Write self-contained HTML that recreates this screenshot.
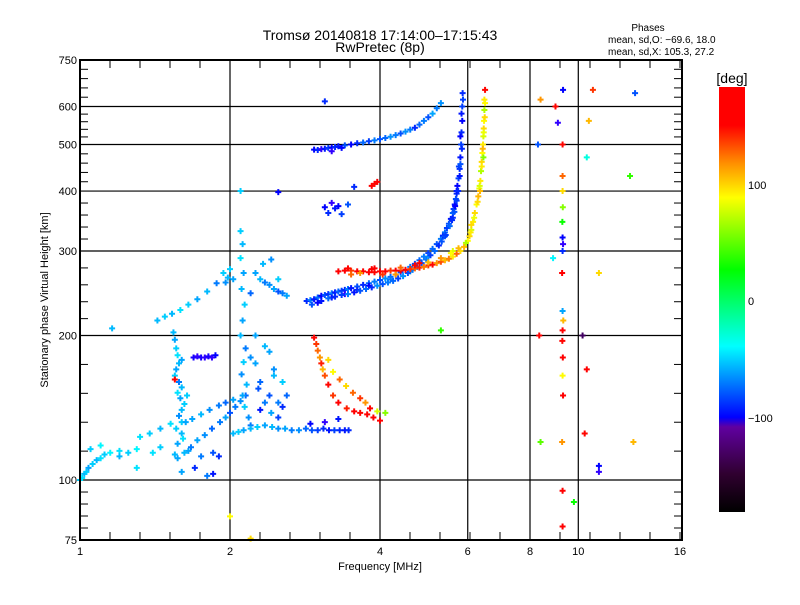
<!DOCTYPE html>
<html><head><meta charset="utf-8"><style>
html,body{margin:0;padding:0;background:#fff;}
svg text{font-family:"Liberation Sans","DejaVu Sans",sans-serif;fill:#000;}
</style></head><body>
<svg id="chart" width="800" height="600" viewBox="0 0 800 600" xmlns="http://www.w3.org/2000/svg">
<defs><linearGradient id="cbar" x1="0" y1="1" x2="0" y2="0">
<stop offset="0" stop-color="#000000"/><stop offset="0.09" stop-color="#300030"/><stop offset="0.2" stop-color="#6000a0"/>
<stop offset="0.223" stop-color="#0000ff"/><stop offset="0.39" stop-color="#00ffff"/><stop offset="0.57" stop-color="#00ff00"/>
<stop offset="0.74" stop-color="#ffff00"/><stop offset="0.82" stop-color="#ff9000"/><stop offset="0.91" stop-color="#ff0000"/><stop offset="1" stop-color="#ff0000"/>
</linearGradient></defs>
<text x="380" y="40" font-size="14" text-anchor="middle">Tromsø 20140818 17:14:00–17:15:43</text>
<text x="380" y="52" font-size="14" text-anchor="middle">RwPretec (8p)</text>
<text x="648" y="31" font-size="10" text-anchor="middle">Phases</text>
<text x="608" y="43" font-size="10">mean, sd,O: −69.6, 18.0</text>
<text x="608" y="55" font-size="10">mean, sd,X: 105.3, 27.2</text>
<g id="grid"></g><g id="marks"></g><g id="axes"></g>
<text x="380" y="570" font-size="11" text-anchor="middle">Frequency [MHz]</text>
<text x="0" y="0" font-size="11" text-anchor="middle" transform="translate(48,300) rotate(-90)">Stationary phase Virtual Height [km]</text>
<rect x="719" y="87" width="26" height="425" fill="url(#cbar)"/>
<text x="732" y="83" font-size="14" text-anchor="middle">[deg]</text>
<text x="748" y="189" font-size="11">100</text>
<text x="748" y="305" font-size="11">0</text>
<text x="748" y="422" font-size="11">−100</text>
</svg>
<script>
const xTicks=[1,2,4,6,8,10,16];
const yTicks=[75,100,200,300,400,500,600,750];
const oF=[2.85,2.9,2.95,3.0,3.05,3.1,3.15,3.2,3.25,3.3,3.35,3.4,3.45,3.5,3.6,3.7,3.8,3.9,4.0,4.1,4.2,4.3,4.4,4.5,4.6,4.7,4.8,4.9,5.0,5.1,5.2,5.3,5.35,5.4,5.45,5.5,5.55,5.6,5.62,5.65,5.68,5.7,5.72,5.75,5.78,5.8,5.82,5.83,5.85,5.85,5.86,3.0,3.2,3.4,3.6,3.8,4.2,4.6,5.0,5.4,5.6,5.7,5.76,5.8];
const oH=[236,237,238,240,242,243,244,245,246,247,248,249,250,251,253,255,257,259,261,263,265,268,271,274,278,282,287,292,297,303,310,318,323,328,335,342,350,360,367,375,385,395,410,425,445,470,500,530,560,600,640,234,240,244,249,254,262,272,292,322,352,400,450,520];
const oP=[-90,-70,-95,-75,-100,-80,-90,-70,-95,-75,-85,-90,-70,-95,-80,-90,-75,-70,-80,-65,-75,-70,-80,-65,-70,-80,-75,-70,-85,-75,-80,-70,-90,-75,-85,-80,-95,-75,-85,-95,-80,-90,-100,-85,-90,-95,-85,-90,-100,-85,-90,-100,-95,-110,-90,-100,-70,-60,-65,-80,-90,-95,-85,-100];
const o2F=[2.92,3.05,3.15,3.25,3.35,3.45,3.55,3.65,3.75,3.85,3.95,4.05,4.15,4.25,4.35,4.45,4.55,4.65,4.75,4.85,4.95,5.05,5.15,5.25,5.32,5.42,5.52,5.58,5.64,5.66,5.7,5.74,5.78,5.8,5.84,5.83,5.87];
const o2H=[232,236,239,241,243,244,246,248,250,252,254,256,258,260,263,266,270,274,278,283,288,294,300,308,314,324,338,348,362,372,382,400,430,455,490,580,620];
const o2P=[-80,-95,-75,-90,-85,-70,-95,-80,-75,-90,-65,-80,-70,-75,-85,-65,-80,-70,-75,-80,-70,-85,-75,-90,-80,-85,-75,-90,-80,-100,-85,-90,-95,-80,-90,-95,-85];
const xF=[3.3,3.4,3.5,3.6,3.7,3.8,3.9,4.0,4.1,4.2,4.3,4.4,4.5,4.6,4.7,4.8,4.9,5.0,5.1,5.2,5.3,5.4,5.5,5.6,5.7,5.8,5.9,6.0,6.05,6.1,6.15,6.2,6.25,6.3,6.33,6.36,6.38,6.4,6.42,6.44,6.45,6.46,6.47,6.48,6.48,6.5,3.5,3.9,4.3,4.8,5.6,6.1,6.35,6.45];
const xH=[272,273,273,272,272,271,271,272,272,273,273,273,274,275,276,277,278,280,281,283,285,287,289,292,296,300,306,315,322,332,345,360,375,390,405,420,440,460,480,500,520,540,560,590,620,650,268,276,268,283,300,340,400,470];
const xP=[175,165,140,175,160,170,150,175,165,140,170,160,150,140,130,145,125,140,150,120,135,110,125,95,130,100,110,90,100,80,95,100,90,110,85,95,70,100,90,95,80,100,90,70,95,150,130,170,120,150,80,100,110,60];
const x2F=[3.45,3.65,3.85,4.05,4.4,4.7,5.0,5.3,5.55,5.75,5.95,6.08,6.18,6.28,6.34,6.4,6.43,6.46,6.49,6.5];
const x2H=[276,270,275,268,277,280,284,290,297,304,312,328,352,380,410,450,490,530,570,610];
const x2P=[150,120,160,140,130,150,110,120,90,110,70,95,85,100,80,95,110,85,100,90];
const hopF=[2.95,3.0,3.05,3.1,3.15,3.2,3.25,3.3,3.4,3.5,3.6,3.7,3.8,3.9,4.0,4.1,4.2,4.3,4.4,4.5,4.6,4.7,4.8,4.9,5.0,5.1,5.2,5.3,3.2,3.35];
const hopH=[488,487,489,490,492,493,494,496,498,500,503,505,508,510,513,516,519,523,527,532,537,542,550,560,570,580,595,610,484,492];
const hopP=[-100,-90,-110,-95,-85,-100,-90,-95,-80,-100,-90,-75,-85,-70,-80,-75,-65,-70,-80,-65,-70,-90,-75,-70,-80,-60,-70,-65,-110,-100];
const eF=[1.0,1.01,1.02,1.03,1.04,1.06,1.08,1.1,1.12,1.15,1.2,1.25,1.3,1.4,1.45,1.55,1.65,1.75,1.85,1.9,1.57,1.62,1.67,1.72,1.78,1.84,1.91,1.96,2.0,2.05,2.1,2.15,1.32,1.38,1.45,1.52,1.6,1.68,1.75,1.82,1.9,1.96,2.03,1.05,1.1,1.2,1.3,1.6,1.7,1.8,1.85];
const eH=[100,101,103,104,106,108,110,111,113,114,115,114,116,114,117,113,115,112,114,112,111,114,117,121,124,128,132,135,138,142,146,150,123,125,128,131,132,134,137,140,143,145,147,116,118,112,106,104,106,102,103];
const eP=[-50,-45,-55,-50,-60,-50,-55,-45,-50,-40,-45,-50,-40,-45,-50,-55,-60,-70,-80,-90,-60,-55,-70,-60,-65,-75,-70,-60,-80,-70,-65,-75,-45,-50,-55,-45,-50,-60,-55,-65,-70,-75,-60,-50,-40,-55,-45,-60,-90,-70,-95];
const colF=[1.54,1.55,1.56,1.57,1.58,1.56,1.55,1.58,1.6,1.57,1.59,1.62,1.6,1.58,1.63,1.56,1.6,1.61,1.57,1.64,1.55,1.6,1.69,1.72,1.75,1.78,1.81,1.84,1.87];
const colH=[203,196,188,182,175,170,165,160,156,152,148,144,140,136,132,128,125,122,119,150,162,178,180,181,180,180,181,180,182];
const colP=[-55,-60,-50,-45,-55,-60,-50,-70,-55,-45,-60,-50,-55,-65,-60,-50,-55,-45,-60,-50,175,-60,-105,-110,-105,-110,-105,-110,-100];
const c2F=[2.1,2.12,2.1,2.13,2.11,2.14,2.12,2.1,2.15,2.13,2.11,2.16,2.12,2.14,2.18,2.2,2.25,2.3,2.35,2.4,2.45,2.5,2.55,2.3,2.4,2.5,2.6,2.25,2.35,2.45,2.2,2.28,2.42,2.55];
const c2H=[330,310,290,270,250,232,215,200,188,176,166,158,150,142,135,130,175,160,190,150,170,145,160,140,185,135,150,200,145,165,180,155,138,142];
const c2P=[-50,-55,-45,-60,-55,-50,-60,-55,-70,-50,-65,-55,-60,-50,-65,-70,-60,-75,-55,-80,-65,-70,-50,-95,-60,-85,-75,-60,-70,-55,-65,-80,-60,-90];
const lineF=[2.03,2.08,2.13,2.2,2.27,2.35,2.43,2.5,2.58,2.66,2.75,2.84,2.92,3.0,3.08,3.16,3.24,3.32,3.4,3.46,2.9,3.1,3.3];
const lineH=[125,126,127,128,129,130,129,128,128,127,127,128,127,127,128,127,127,127,127,127,131,132,134];
const lineP=[-55,-50,-60,-55,-50,-60,-55,-65,-60,-70,-65,-75,-80,-85,-90,-95,-85,-90,-95,-90,-100,-110,-95];
const cuspF=[2.95,2.98,3.0,3.03,3.05,3.07,3.1,3.15,3.22,3.3,3.43,3.55,3.65,3.77,3.88,4.0,3.15,3.22,3.32,3.42,3.53,3.65,3.74,3.82,3.95,4.1];
const cuspH=[198,192,186,180,175,170,165,158,150,145,141,139,138,137,135,133,178,168,162,157,152,148,145,141,139,138];
const cuspP=[150,140,130,120,145,110,135,150,140,160,145,160,150,165,160,155,100,90,130,100,130,140,120,150,80,60];
const upF=[1.16,1.43,1.48,1.53,1.59,1.65,1.72,1.8,1.88,1.94,1.98,2.03,1.96,2.0,2.25,2.3,2.35,2.4,2.45,2.5,2.55,2.6,2.33,2.42,2.2,2.5,3.1,3.15,3.2,3.25,3.3,3.35,3.45,3.55,3.85,3.9,3.95,3.1,2.1,2.5];
const upH=[207,215,219,222,226,232,238,247,257,270,264,262,258,275,270,262,258,255,250,247,245,242,282,288,245,262,370,360,378,368,372,358,375,408,410,414,418,615,400,398];
const upP=[-55,-55,-50,-55,-45,-50,-60,-55,-70,-50,-55,-60,-65,-50,-60,-55,-70,-65,-60,-80,-70,-60,-55,-65,-75,-50,-100,-90,-110,-95,-100,-85,-80,-90,165,150,170,-90,-50,-100];
const scF=[9.3,9.3,9.28,9.32,9.3,9.31,9.29,9.3,9.33,9.3,9.28,9.3,9.32,9.3,9.29,9.31,9.3,9.3,9.3,9.32,8.4,8.3,8.35,8.4,9.0,9.1,10.7,13.0,10.5,10.4,12.7,11.0,10.2,10.4,12.9,11.0,11.0,5.3,2.0,2.2,8.9,9.8,10.3];
const scH=[80,95,120,150,165,180,195,205,215,225,270,300,310,320,345,370,400,430,500,650,620,500,200,120,600,555,650,640,560,470,430,270,200,170,120,107,104,205,84,75.5,290,90,125];
const scP=[170,175,120,165,90,170,150,160,110,-60,155,-90,-110,-100,30,60,100,130,150,-100,120,-80,160,50,150,-110,140,-80,110,-30,40,100,-140,160,110,-100,-110,40,90,100,-40,30,150];

const X=f=>80+150*Math.log2(f);
const Y=h=>540-480*Math.log10(h/75);
const SVGNS="http://www.w3.org/2000/svg";
function colorOf(p){
  const st=[[-182,[0,0,0]],[-140,[64,0,96]],[-110,[48,0,255]],[-100,[0,0,255]],[-38,[0,255,255]],[28,[0,255,0]],[89,[255,255,0]],[120,[255,150,0]],[151,[255,0,0]],[200,[255,0,0]]];
  p=Math.max(-182,Math.min(200,p));
  for(let i=0;i<st.length-1;i++){if(p<=st[i+1][0]){const t=(p-st[i][0])/(st[i+1][0]-st[i][0]);const a=st[i][1],b=st[i+1][1];return `rgb(${Math.round(a[0]+(b[0]-a[0])*t)},${Math.round(a[1]+(b[1]-a[1])*t)},${Math.round(a[2]+(b[2]-a[2])*t)})`;}}
  return "rgb(255,0,0)";
}
const grid=document.getElementById('grid'),axes=document.getElementById('axes'),marks=document.getElementById('marks');
function line(g,x1,y1,x2,y2,w){const l=document.createElementNS(SVGNS,'line');l.setAttribute('x1',x1);l.setAttribute('y1',y1);l.setAttribute('x2',x2);l.setAttribute('y2',y2);l.setAttribute('stroke','#000');l.setAttribute('stroke-width',w);g.appendChild(l);return l;}
[2,4,6,8,10].forEach(f=>{const l=line(grid,X(f),60,X(f),540,1.2);

});
[100,200,300,400,500,600].forEach(h=>{const l=line(grid,80,Y(h),682,Y(h),1.2);

});
for(let x=80;x<=682;x+=30){line(axes,x,540,x,532,1);line(axes,x,60,x,68,1);}
const yMajor=[75,100,200,300,400,500,600,750];
for(let i=0;i<yMajor.length-1;i++){const a=Y(yMajor[i]),b=Y(yMajor[i+1]);const n=5;for(let k=1;k<n;k++){const y=a+(b-a)*k/n;line(axes,80,y,88,y,1);line(axes,682,y,674,y,1);}}
const frame=document.createElementNS(SVGNS,'rect');
frame.setAttribute('x',80);frame.setAttribute('y',60);frame.setAttribute('width',602);frame.setAttribute('height',480);
frame.setAttribute('fill','none');frame.setAttribute('stroke','#000');frame.setAttribute('stroke-width',2);


axes.appendChild(frame);
xTicks.forEach(f=>{const t=document.createElementNS(SVGNS,'text');t.setAttribute('x',X(f));t.setAttribute('y',555);t.setAttribute('font-size','11');t.setAttribute('text-anchor','middle');t.textContent=f;


axes.appendChild(t);});
yTicks.forEach(h=>{const t=document.createElementNS(SVGNS,'text');t.setAttribute('x',77);t.setAttribute('y',Y(h)+4);t.setAttribute('font-size','11');t.setAttribute('text-anchor','end');t.textContent=h;


axes.appendChild(t);});
function draw(F,H,P,name){
  for(let i=0;i<F.length;i++){
    const x=X(F[i]),y=Y(H[i]);
    const p=document.createElementNS(SVGNS,'path');
    p.setAttribute('d',`M${x-3},${y}h6M${x},${y-3}v6`);
    p.setAttribute('stroke',colorOf(P[i]));p.setAttribute('stroke-width','2');
    
    
    marks.appendChild(p);
  }
}
draw(oF,oH,oP,'o-trace-point');draw(o2F,o2H,o2P,'o-trace-point');
draw(xF,xH,xP,'x-trace-point');draw(x2F,x2H,x2P,'x-trace-point');
draw(hopF,hopH,hopP,'two-hop-point');
draw(eF,eH,eP,'e-region-point');draw(colF,colH,colP,'spread-column-point');draw(c2F,c2H,c2P,'spread-column2-point');
draw(lineF,lineH,lineP,'flat-trace-point');draw(cuspF,cuspH,cuspP,'cusp-trace-point');draw(upF,upH,upP,'upper-trace-point');
draw(scF,scH,scP,'scatter-point');
</script>
</body></html>
